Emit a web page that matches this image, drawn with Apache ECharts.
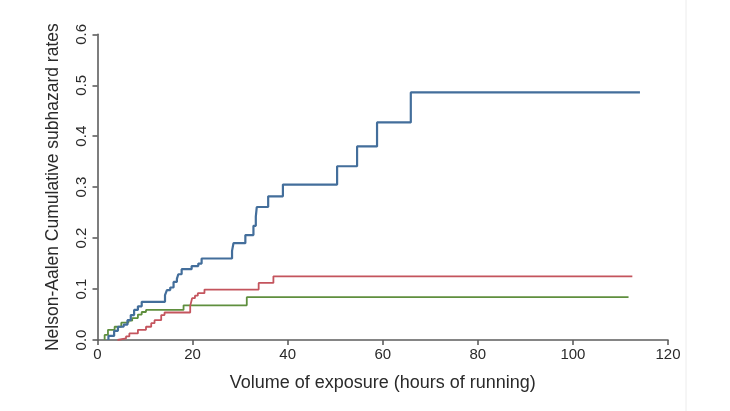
<!DOCTYPE html>
<html>
<head>
<meta charset="utf-8">
<script src="https://cdn.jsdelivr.net/npm/echarts@6/dist/echarts.min.js"></script>
<style>
html,body{margin:0;padding:0;background:#fff;}
#chart{width:730px;height:411px;}
</style>
</head>
<body>
<div id="chart"></div>
<script>
// Step points: [time at which the step occurs, new cumulative value]
const blueSteps = [
  [2.3, 0], [2.3, 0.008], [3.5, 0.018], [4.3, 0.026], [5.5, 0.030], [6.3, 0.039],
  [7.0, 0.049], [7.7, 0.059], [8.5, 0.066], [9.3, 0.075], [14.2, 0.088],
  [14.6, 0.098], [15.3, 0.103], [16.0, 0.114], [16.7, 0.120], [17.0, 0.129],
  [17.7, 0.139], [19.8, 0.145], [21.2, 0.150], [21.9, 0.160], [28.3, 0.175],
  [28.6, 0.190], [31.1, 0.206], [32.8, 0.224], [33.3, 0.242], [33.5, 0.261],
  [35.9, 0.282], [39.0, 0.305], [50.4, 0.341], [54.6, 0.380], [58.8, 0.427],
  [65.9, 0.486], [114.1, 0.486]
];
const redSteps = [
  [4.2, 0], [4.2, 0.003], [6.0, 0.007], [6.7, 0.013], [8.5, 0.020], [10.2, 0.026],
  [11.3, 0.033], [12.0, 0.039], [13.4, 0.049], [14.1, 0.054], [19.5, 0.067],
  [19.9, 0.082], [20.5, 0.087], [21.1, 0.092], [22.5, 0.099], [33.9, 0.112],
  [37.0, 0.125], [112.5, 0.125]
];
const greenSteps = [
  [1.5, 0], [1.5, 0.010], [2.2, 0.020], [3.6, 0.026], [5.0, 0.034], [6.5, 0.038],
  [7.3, 0.043], [8.5, 0.050], [9.3, 0.055], [10.2, 0.059], [18.1, 0.068],
  [31.4, 0.084], [111.7, 0.084]
];
const xTicks = [0, 20, 40, 60, 80, 100, 120];
const yTicks = [0, 0.1, 0.2, 0.3, 0.4, 0.5, 0.6];
const xTitle = 'Volume of exposure (hours of running)';
const yTitle = 'Nelson-Aalen Cumulative subhazard rates';

const chart = echarts.init(document.getElementById('chart'), null, {renderer: 'canvas'});
const font = 'Liberation Sans, Arial, sans-serif';
const axisLine = {show: true, onZero: false, lineStyle: {color: '#5e5e5e', width: 1.6}};
const axisTick = {show: true, length: 5, lineStyle: {color: '#5e5e5e', width: 1.6}};

function line(data, color, width) {
  return {
    type: 'line', data: data, step: 'end', symbol: 'none', animation: false,
    lineStyle: {color: color, width: width}
  };
}

chart.setOption({
  backgroundColor: '#ffffff',
  animation: false,
  grid: {left: 97.5, right: 62, top: 34.3, bottom: 71, containLabel: false},
  xAxis: {
    type: 'value', min: xTicks[0], max: xTicks[xTicks.length - 1], interval: 20,
    axisLine: axisLine, axisTick: axisTick, splitLine: {show: false},
    axisLabel: {color: '#2a2a2a', fontSize: 15, fontFamily: font, margin: 7},
    name: xTitle, nameLocation: 'middle', nameGap: 34,
    nameTextStyle: {color: '#2a2a2a', fontSize: 18, fontFamily: font}
  },
  yAxis: {
    type: 'value', min: yTicks[0], max: yTicks[yTicks.length - 1], interval: 0.1,
    axisLine: axisLine, axisTick: axisTick, splitLine: {show: false},
    axisLabel: {color: '#2a2a2a', fontSize: 15, fontFamily: font, margin: 8, rotate: 90,
      formatter: v => v.toFixed(1)},
    name: yTitle, nameLocation: 'middle', nameGap: 35, nameRotate: 90,
    nameTextStyle: {color: '#2a2a2a', fontSize: 17.5, fontFamily: font}
  },
  graphic: [{
    type: 'line', shape: {x1: 686, y1: 0, x2: 686, y2: 411},
    style: {stroke: '#ececec', lineWidth: 1}, silent: true
  }],
  series: [
    line(greenSteps, '#5f8f3e', 1.8),
    line(redSteps, '#c4545d', 1.8),
    line(blueSteps, '#436e9b', 2.2)
  ]
});
</script>
</body>
</html>
